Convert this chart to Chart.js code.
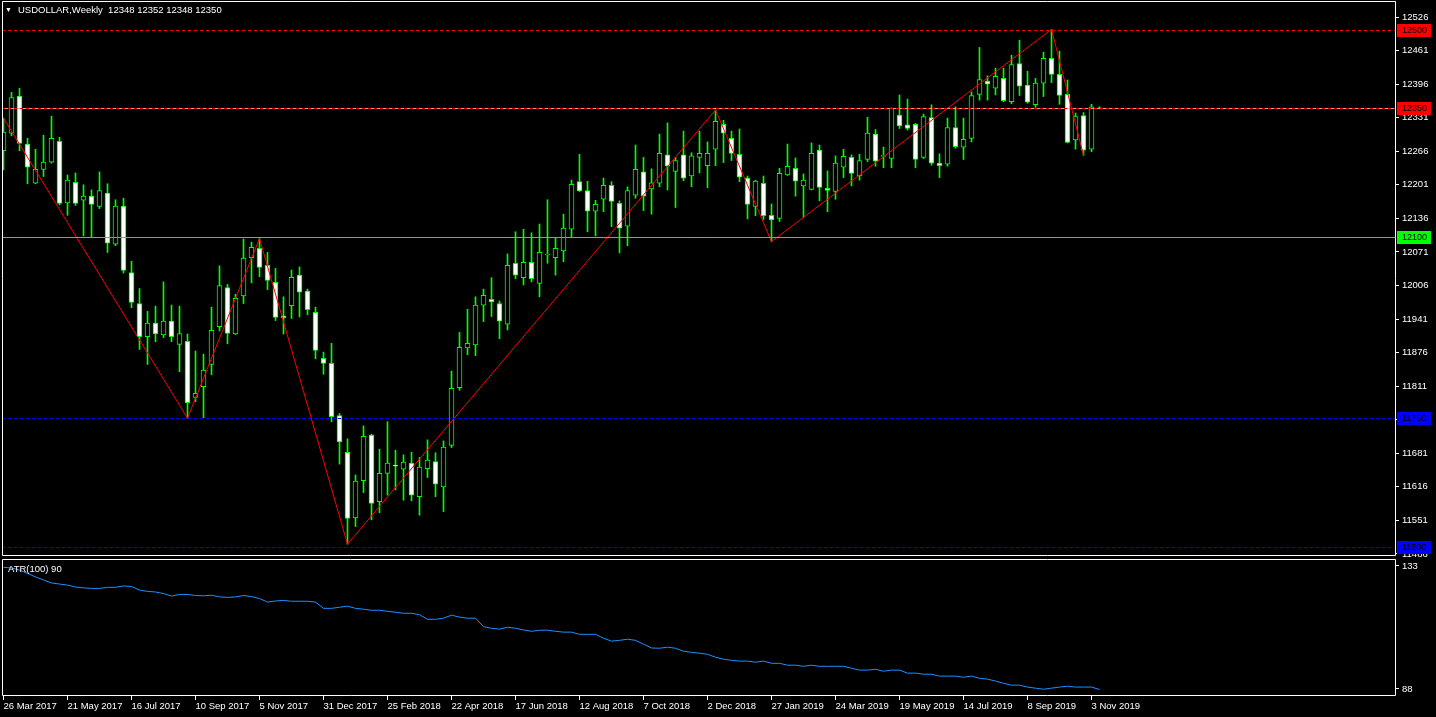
<!DOCTYPE html>
<html><head><meta charset="utf-8">
<script src="https://cdn.jsdelivr.net/npm/chart.js@4.4.1/dist/chart.umd.min.js"></script>
<style>
html,body{margin:0;padding:0;background:#000;overflow:hidden;width:1436px;height:717px;}
canvas{position:absolute;left:0;display:block;}
#main{top:0;} #atr{top:557px;}
</style></head><body>
<canvas id="main" width="1436" height="557"></canvas>
<canvas id="atr" width="1436" height="160"></canvas>
<script>
// ---------------- data ----------------
const titleText = 'USDOLLAR,Weekly';
const lastQuote = [12348, 12352, 12348, 12350];
const atrTitle = 'ATR(100) 90';

const xTickLabels = ['26 Mar 2017','21 May 2017','16 Jul 2017','10 Sep 2017','5 Nov 2017','31 Dec 2017',
  '25 Feb 2018','22 Apr 2018','17 Jun 2018','12 Aug 2018','7 Oct 2018','2 Dec 2018','27 Jan 2019',
  '24 Mar 2019','19 May 2019','14 Jul 2019','8 Sep 2019','3 Nov 2019'];
const weeksPerXTick = 8;

const yTickValues = [12526,12461,12396,12331,12266,12201,12136,12071,12006,11941,11876,11811,11746,11681,11616,11551,11486];
const atrTickValues = [133, 88];

const openP = [12267,12301,12373,12280,12204,12231,12245,12285,12166,12206,12171,12179,12159,12185,12086,12160,12031,11971,11907,11933,
11910,11937,11892,11898,11789,11810,11853,11926,12002,11912,11986,12060,12078,12045,12012,11947,11967,12026,11995,11954,
11865,11855,11754,11683,11556,11628,11716,11587,11642,11658,11650,11662,11597,11651,11665,11616,11696,11808,11885,11891,
11968,11979,11971,11931,12049,12021,12051,12010,12065,12060,12073,12115,12207,12190,12150,12173,12200,12165,12121,12181,
12226,12193,12204,12259,12227,12259,12218,12254,12238,12270,12318,12291,12260,12214,12159,12204,12142,12136,12220,12233,
12199,12192,12268,12194,12188,12235,12254,12218,12250,12299,12256,12252,12336,12317,12318,12254,12331,12243,12241,12312,
12274,12291,12376,12402,12388,12407,12362,12436,12394,12356,12398,12446,12415,12376,12288,12335,12270,12348];
const highP = [12330,12380,12388,12291,12270,12297,12334,12293,12220,12224,12201,12191,12226,12203,12172,12175,12053,12000,11956,11966,
12013,11968,11966,11912,11879,11873,11964,12044,12008,11989,12096,12090,12097,12070,12039,11984,12036,12042,11999,11964,
11877,11894,11758,11709,11639,11734,11718,11689,11742,11687,11678,11683,11673,11707,11682,11705,11840,11915,11960,11984,
11999,12021,11976,12067,12110,12115,12108,12125,12172,12099,12144,12210,12260,12208,12171,12214,12207,12170,12197,12278,
12254,12232,12299,12321,12254,12305,12263,12305,12284,12346,12326,12305,12309,12218,12210,12218,12164,12233,12280,12253,
12222,12282,12278,12228,12257,12270,12259,12260,12332,12308,12274,12350,12375,12367,12320,12338,12356,12261,12330,12352,
12330,12381,12467,12412,12427,12427,12452,12481,12421,12407,12458,12502,12460,12404,12340,12341,12357,12352];
const lowP = [12230,12296,12267,12203,12203,12217,12243,12162,12142,12161,12102,12100,12155,12070,12083,12030,11963,11882,11853,11897,
11905,11897,11839,11749,11781,11750,11833,11918,11893,11911,11971,12011,12023,11998,11938,11912,11942,11945,11949,11864,
11834,11742,11660,11505,11539,11605,11552,11566,11600,11610,11590,11589,11561,11634,11597,11568,11692,11803,11872,11870,
11936,11946,11903,11920,12019,12007,12013,11984,12049,12026,12052,12100,12188,12110,12102,12149,12120,12069,12083,12175,
12151,12144,12197,12191,12157,12209,12197,12224,12195,12238,12244,12248,12207,12135,12141,12134,12091,12130,12219,12179,
12138,12191,12170,12149,12173,12215,12199,12210,12246,12237,12234,12234,12310,12307,12234,12252,12239,12215,12237,12272,
12250,12284,12365,12365,12375,12362,12358,12374,12359,12351,12372,12399,12357,12282,12270,12258,12265,12348];
const closeP = [12303,12370,12281,12235,12231,12245,12291,12165,12210,12165,12179,12163,12190,12088,12160,12035,11973,11907,11933,11912,
11937,11907,11913,11779,11797,11842,11919,12006,11913,11981,12059,12080,12041,12016,11944,11943,12022,11993,11959,11880,
11855,11752,11703,11555,11627,11714,11584,11642,11662,11656,11664,11600,11654,11668,11621,11693,11807,11886,11894,11968,
11987,11974,11937,12045,12026,12051,12019,12070,12067,12078,12117,12202,12189,12150,12163,12200,12169,12117,12190,12231,
12179,12205,12262,12237,12248,12214,12257,12262,12262,12324,12301,12262,12216,12163,12208,12141,12133,12223,12237,12208,
12210,12262,12196,12190,12243,12256,12223,12248,12301,12247,12258,12349,12315,12310,12250,12333,12243,12238,12312,12275,
12289,12374,12405,12396,12411,12364,12434,12392,12361,12398,12446,12415,12374,12283,12333,12268,12352,12350];

const atrValues = [132.5,132.3,131.5,130.3,129.0,127.9,126.8,126.4,126.0,125.3,125.0,124.8,124.8,125.2,125.2,125.7,125.5,124.2,123.7,123.5,
122.9,122.0,122.6,122.6,122.2,122.1,122.3,121.7,121.5,121.7,122.2,121.8,121.1,119.8,120.2,120.4,120.1,120.1,120.1,119.8,
117.5,117.5,117.9,118.3,117.5,117.2,116.8,116.8,116.4,116.1,115.7,115.7,115.2,113.5,113.5,113.9,115.0,114.3,113.9,113.9,
110.8,110.2,109.9,110.6,110.2,109.6,109.1,109.5,109.5,109.1,108.8,108.8,108.0,108.0,108.0,106.6,105.5,105.8,106.2,105.8,
104.4,103.0,102.9,103.3,102.9,101.8,101.4,101.1,100.7,99.6,98.9,98.5,98.2,98.2,97.8,98.2,97.4,97.4,96.7,96.7,
96.3,96.7,96.3,96.3,96.3,96.3,95.6,94.9,94.9,95.2,94.5,94.9,94.9,93.8,93.8,93.4,93.4,92.7,92.7,92.7,
92.3,92.7,91.9,91.6,90.9,90.1,89.4,89.4,88.7,88.3,87.9,88.3,88.7,89.0,88.7,88.7,88.7,87.8];

const zigzagBars = [0, 23, 32, 43, 89, 96, 131, 135];
const zigzagPrices = [12330, 11749, 12097, 11505, 12346, 12091, 12502, 12258];

const levelValues = [12500, 12350, 12100, 11750, 11500];
const bidPrice = 12350;

// ---------------- styling / config ----------------
const FONT = "'Liberation Sans', Arial, sans-serif";
const LIME = '#00ff00';
const X_MIN = -0.1875, X_MAX = 173.9375;
const levelStyle = [
  {color:'#ff0000', dash:[3,3], box:'#ff0000'},
  {color:'#ff0000', dash:[3,3], box:'#ff0000'},
  {color:'#00ff00', dash:[],    box:'#00ff00'},
  {color:'#0000ff', dash:[3,3], box:'#0000ff'},
  {color:'#0000ff', dash:[3,3], box:'#0000ff'}
];

const idx = openP.map((_, i) => i);
const wickData = idx.map(i => ({x: i, y: [lowP[i], highP[i]]}));
const bodyData = idx.map(i => ({x: i, y: [Math.min(openP[i], closeP[i]), Math.max(openP[i], closeP[i])]}));
const bodyColors = idx.map(i => closeP[i] < openP[i] ? '#ffffff' : '#000000');
const zigzagData = zigzagBars.map((b, j) => ({x: b, y: zigzagPrices[j]}));
const atrData = idx.map(i => ({x: i, y: atrValues[i]}));

function noPad(s) { s.paddingTop = 0; s.paddingBottom = 0; s.paddingLeft = 0; s.paddingRight = 0; }

function frame(ctx, a) {
  ctx.save();
  ctx.strokeStyle = '#ffffff';
  ctx.lineWidth = 1;
  ctx.beginPath();
  ctx.moveTo(a.left + 0.5, a.top + 0.5);
  ctx.lineTo(a.right + 0.5, a.top + 0.5);
  ctx.lineTo(a.right + 0.5, a.bottom - 0.5);
  ctx.lineTo(a.left + 0.5, a.bottom - 0.5);
  ctx.closePath();
  ctx.stroke();
  ctx.restore();
}

const bgPlugin = {
  id: 'bg',
  beforeDraw(chart) {
    const c = chart.ctx;
    c.save(); c.fillStyle = '#000'; c.fillRect(0, 0, chart.width, chart.height); c.restore();
  }
};

const mainPlugin = {
  id: 'mainDeco',
  afterDatasetsDraw(chart) {
    const c = chart.ctx, a = chart.chartArea, ys = chart.scales.y;
    c.save();
    c.beginPath(); c.rect(a.left, a.top, a.right - a.left, a.bottom - a.top); c.clip();
    c.lineWidth = 1;
    const by = Math.round(ys.getPixelForValue(bidPrice)) + 0.5;
    c.strokeStyle = '#b0b0b0'; c.setLineDash([]);
    c.beginPath(); c.moveTo(a.left, by); c.lineTo(a.right, by); c.stroke();
    levelValues.forEach((v, j) => {
      const y = Math.round(ys.getPixelForValue(v)) + 0.5;
      c.strokeStyle = levelStyle[j].color;
      c.setLineDash(levelStyle[j].dash);
      c.beginPath(); c.moveTo(a.left, y); c.lineTo(a.right, y); c.stroke();
    });
    c.restore();
  },
  afterDraw(chart) {
    const c = chart.ctx, a = chart.chartArea, ys = chart.scales.y;
    frame(c, a);
    c.save();
    c.font = '9px ' + FONT;
    c.textBaseline = 'middle';
    levelValues.forEach((v, j) => {
      const y = Math.round(ys.getPixelForValue(v));
      c.fillStyle = levelStyle[j].box;
      c.fillRect(a.right + 2, y - 6, 34, 13);
      c.fillStyle = '#000';
      c.textAlign = 'left';
      c.fillText(String(v), a.right + 7, y + 0.5);
    });
    c.fillStyle = '#ffffff';
    c.font = '7px ' + FONT;
    c.fillText('\u25BC', 5, 10);
    c.font = '9.5px ' + FONT;
    c.fillText(titleText + '  ' + lastQuote.join(' '), 18, 10.5);
    c.restore();
  }
};

new Chart(document.getElementById('main'), {
  type: 'bar',
  data: {
    datasets: [
      {type:'line', data: zigzagData, borderColor:'#ff0000', borderWidth:1, pointRadius:0, fill:false, tension:0, order:0},
      {type:'bar', data: bodyData, backgroundColor: bodyColors, borderColor: LIME, borderWidth:1, borderSkipped:false,
       barThickness:5, grouped:false, order:2},
      {type:'bar', data: wickData, backgroundColor: LIME, borderWidth:0, barThickness:1, grouped:false, order:3}
    ]
  },
  options: {
    responsive:false, animation:false, devicePixelRatio:1,
    layout:{padding:{left:2, top:1, right:0, bottom:1}},
    plugins:{legend:{display:false}, tooltip:{enabled:false}},
    events: [],
    scales:{
      x:{type:'linear', min:X_MIN, max:X_MAX, offset:false, display:false},
      y:{type:'linear', position:'right', min:11482, max:12557,
         afterBuildTicks: s => { s.ticks = yTickValues.map(v => ({value:v})); },
         afterFit: s => { s.width = 41; noPad(s); },
         ticks:{color:'#ffffff', font:{family:FONT, size:9.5}, padding:3, callback: v => String(v)},
         grid:{drawOnChartArea:false, color:'#ffffff', tickLength:4},
         border:{display:false}}
    }
  },
  plugins:[bgPlugin, mainPlugin]
});

const atrPlugin = {
  id: 'atrDeco',
  afterDraw(chart) {
    const c = chart.ctx, a = chart.chartArea;
    frame(c, a);
    c.save();
    c.fillStyle = '#ffffff';
    c.font = '9.5px ' + FONT;
    c.textBaseline = 'middle';
    c.fillText(atrTitle, 8, 12);
    c.restore();
  }
};

new Chart(document.getElementById('atr'), {
  type: 'line',
  data: {
    datasets: [
      {data: atrData, borderColor:'#1e90ff', borderWidth:1, pointRadius:0, fill:false, tension:0}
    ]
  },
  options: {
    responsive:false, animation:false, devicePixelRatio:1,
    layout:{padding:{left:2, top:2, right:0, bottom:0}},
    plugins:{legend:{display:false}, tooltip:{enabled:false}},
    events: [],
    scales:{
      x:{type:'linear', min:X_MIN, max:X_MAX, offset:false,
         afterBuildTicks: s => { s.ticks = xTickLabels.map((_, j) => ({value: j * weeksPerXTick})); },
         afterFit: s => { s.height = 21; noPad(s); },
         ticks:{color:'#ffffff', font:{family:FONT, size:9.5}, padding:1, align:'start', autoSkip:false, maxRotation:0,
                callback: v => xTickLabels[Math.round(v / weeksPerXTick)]},
         grid:{drawOnChartArea:false, color:'#ffffff', tickLength:4},
         border:{display:false}},
      y:{type:'linear', position:'right', min:85.43, max:135.56,
         afterBuildTicks: s => { s.ticks = atrTickValues.map(v => ({value:v})); },
         afterFit: s => { s.width = 41; noPad(s); },
         ticks:{color:'#ffffff', font:{family:FONT, size:9.5}, padding:3, callback: v => String(v)},
         grid:{drawOnChartArea:false, color:'#ffffff', tickLength:4},
         border:{display:false}}
    }
  },
  plugins:[bgPlugin, atrPlugin]
});
</script>
</body></html>
